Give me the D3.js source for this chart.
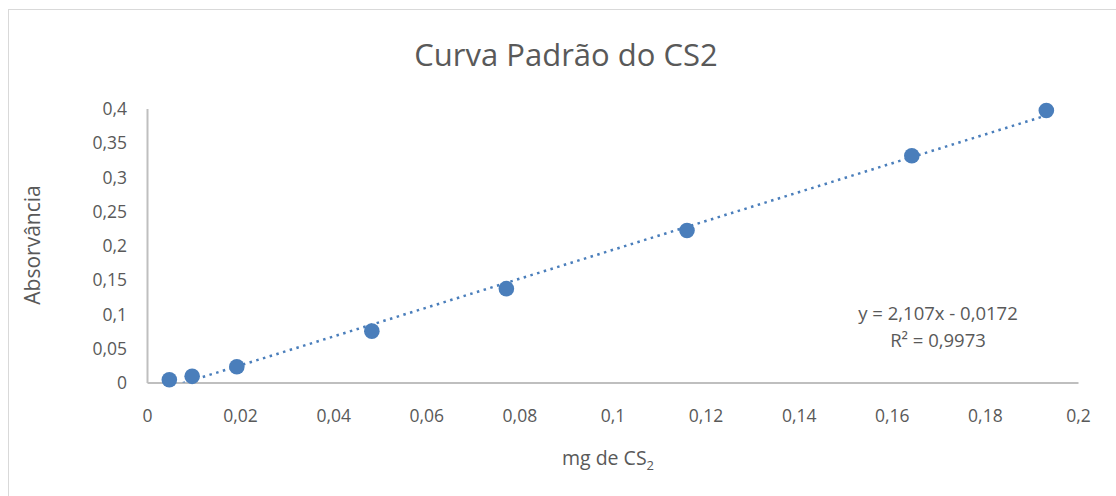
<!DOCTYPE html>
<html>
<head>
<meta charset="utf-8">
<script src="https://cdn.jsdelivr.net/npm/d3@7"></script>
<style>
  body { margin: 0; background: #fff; }
  text { font-family: "Open Sans", "Noto Sans", sans-serif; fill: #595959; }
</style>
</head>
<body>
<div id="chart"></div>
<script>
// dados
const massas = [0.0048, 0.0097, 0.0193, 0.0483, 0.0772, 0.116, 0.1643, 0.1932];
const absorvancias = [0.004, 0.009, 0.023, 0.075, 0.137, 0.222, 0.331, 0.397];
const xTicks = [0, 0.02, 0.04, 0.06, 0.08, 0.1, 0.12, 0.14, 0.16, 0.18, 0.2];
const yTicks = [0, 0.05, 0.1, 0.15, 0.2, 0.25, 0.3, 0.35, 0.4];
const slope = 2.107, intercept = -0.0172;

const W = 1116, H = 496;
const svg = d3.select("#chart").append("svg").attr("width", W).attr("height", H);

// borda do gráfico
svg.append("rect")
    .attr("x", 8.5).attr("y", 9.5)
    .attr("width", W + 10).attr("height", H + 10)
    .attr("fill", "none").attr("stroke", "#d9d9d9").attr("stroke-width", 1);

const x = d3.scaleLinear().domain([0, 0.2]).range([147, 1078]);
const y = d3.scaleLinear().domain([0, 0.4]).range([382.5, 108.5]);
const fmt = d => String(+d.toFixed(3)).replace(".", ",");

// eixos
const xAxis = svg.append("g").attr("transform", `translate(0,${y(0)})`)
    .call(d3.axisBottom(x).tickValues(xTicks).tickFormat(fmt).tickSize(0).tickPadding(27));
const yAxis = svg.append("g").attr("transform", `translate(${x(0)},0)`)
    .call(d3.axisLeft(y).tickValues(yTicks).tickFormat(fmt).tickSize(0).tickPadding(20));
[xAxis, yAxis].forEach(g => {
    g.select(".domain").attr("stroke", "#bfbfbf").attr("stroke-width", 2);
    g.selectAll("text").attr("font-size", 17.5).attr("fill", "#595959")
        .attr("font-family", '"Open Sans", "Noto Sans", sans-serif');
});
yAxis.selectAll("text").attr("dy", "0.35em");

// linha de tendência (recortada na área do gráfico)
svg.append("clipPath").attr("id", "area")
    .append("rect").attr("x", x(0)).attr("y", y(0.4)).attr("width", x(0.2) - x(0)).attr("height", y(0) - y(0.4));
const x0 = d3.min(massas), x1 = d3.max(massas);
svg.append("line")
    .attr("clip-path", "url(#area)")
    .attr("x1", x(x0)).attr("y1", y(slope * x0 + intercept))
    .attr("x2", x(x1)).attr("y2", y(slope * x1 + intercept))
    .attr("stroke", "#4a7ebb").attr("stroke-width", 2.5)
    .attr("stroke-dasharray", "2.5 4.5").attr("stroke-linecap", "butt");

// pontos
svg.selectAll("circle.pt").data(massas).join("circle")
    .attr("class", "pt")
    .attr("cx", d => x(d))
    .attr("cy", (d, i) => y(absorvancias[i]))
    .attr("r", 7.8)
    .attr("fill", "#4a7ebb");

// títulos
svg.append("text").attr("x", 566).attr("y", 66).attr("text-anchor", "middle")
    .attr("font-size", 31).text("Curva Padrão do CS2");

const xt = svg.append("text").attr("x", 608).attr("y", 465).attr("text-anchor", "middle").attr("font-size", 19.5);
xt.append("tspan").text("mg de CS");
xt.append("tspan").attr("font-size", 13).attr("dy", 5).text("2");

svg.append("text").attr("transform", "translate(40,245) rotate(-90)")
    .attr("text-anchor", "middle").attr("font-size", 21).text("Absorvância");

// equação
svg.append("text").attr("x", 938).attr("y", 320).attr("text-anchor", "middle")
    .attr("font-size", 18.5).text("y = 2,107x - 0,0172");
svg.append("text").attr("x", 938).attr("y", 347).attr("text-anchor", "middle")
    .attr("font-size", 18.5).text("R² = 0,9973");
</script>
</body>
</html>
